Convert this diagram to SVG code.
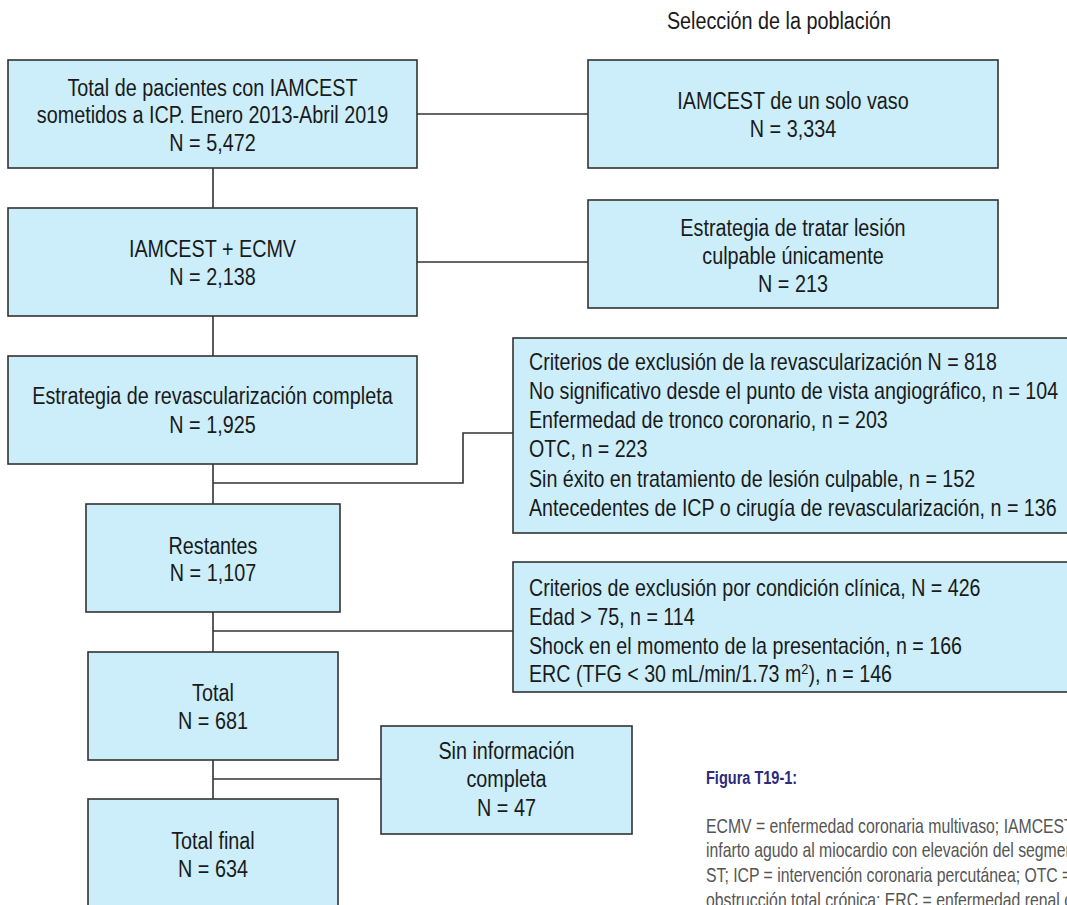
<svg xmlns="http://www.w3.org/2000/svg" width="1067" height="905" viewBox="0 0 1067 905">
<style>
.box{fill:#cbeefa;stroke:#333;stroke-width:1.6}
.t{font-family:"Liberation Sans",Arial,sans-serif;font-size:23px;fill:#1a1a1a}
.c{text-anchor:middle}
.conn{fill:none;stroke:#333;stroke-width:1.6}
.cap{font-family:"Liberation Sans",Arial,sans-serif;font-size:20.5px;fill:#555}
.fig{font-family:"Liberation Sans",Arial,sans-serif;font-size:19px;font-weight:bold;fill:#2d2a7c}
</style>
<rect width="1067" height="905" fill="#fff"/>
<g transform="translate(779,0) scale(0.86,1) translate(-779,0)">
<text class="t c" x="779" y="29" font-size="22">Selección de la población</text>
</g>
<g id="connectors">
<path class="conn" d="M417 114H588"/>
<path class="conn" d="M213 168V208"/>
<path class="conn" d="M417 262H588"/>
<path class="conn" d="M213 316V356"/>
<path class="conn" d="M213 464V504"/>
<path class="conn" d="M213 483H463V433H513"/>
<path class="conn" d="M213 612V652"/>
<path class="conn" d="M213 631H513"/>
<path class="conn" d="M213 760V799"/>
<path class="conn" d="M213 779H381"/>
</g>
<g id="n1"><rect class="box" x="8" y="60" width="409" height="108"/>
<g transform="translate(212.5,0) scale(0.86,1) translate(-212.5,0)">
<text class="t c" x="212.5" y="96">Total de pacientes con IAMCEST</text>
<text class="t c" x="212.5" y="123">sometidos a ICP. Enero 2013-Abril 2019</text>
<text class="t c" x="212.5" y="151">N = 5,472</text></g></g>
<g id="n2"><rect class="box" x="588" y="60" width="410" height="108"/>
<g transform="translate(793,0) scale(0.86,1) translate(-793,0)">
<text class="t c" x="793" y="109">IAMCEST de un solo vaso</text>
<text class="t c" x="793" y="137">N = 3,334</text></g></g>
<g id="n3"><rect class="box" x="8" y="208" width="409" height="108"/>
<g transform="translate(212.5,0) scale(0.86,1) translate(-212.5,0)">
<text class="t c" x="212.5" y="257">IAMCEST + ECMV</text>
<text class="t c" x="212.5" y="285">N = 2,138</text></g></g>
<g id="n4"><rect class="box" x="588" y="200" width="410" height="108"/>
<g transform="translate(793,0) scale(0.86,1) translate(-793,0)">
<text class="t c" x="793" y="236">Estrategia de tratar lesión</text>
<text class="t c" x="793" y="264">culpable únicamente</text>
<text class="t c" x="793" y="292">N = 213</text></g></g>
<g id="n5"><rect class="box" x="8" y="356" width="409" height="108"/>
<g transform="translate(212.5,0) scale(0.86,1) translate(-212.5,0)">
<text class="t c" x="212.5" y="404">Estrategia de revascularización completa</text>
<text class="t c" x="212.5" y="433">N = 1,925</text></g></g>
<g id="n6"><rect class="box" x="513" y="338" width="560" height="195"/>
<g transform="translate(529,0) scale(0.855,1) translate(-529,0)">
<text class="t" x="529" y="370">Criterios de exclusión de la revascularización N = 818</text>
<text class="t" x="529" y="399">No significativo desde el punto de vista angiográfico, n = 104</text>
<text class="t" x="529" y="428">Enfermedad de tronco coronario, n = 203</text>
<text class="t" x="529" y="457">OTC, n = 223</text>
<text class="t" x="529" y="487">Sin éxito en tratamiento de lesión culpable, n = 152</text>
<text class="t" x="529" y="516">Antecedentes de ICP o cirugía de revascularización, n = 136</text></g></g>
<g id="n7"><rect class="box" x="86" y="504" width="254" height="108"/>
<g transform="translate(213,0) scale(0.86,1) translate(-213,0)">
<text class="t c" x="213" y="554">Restantes</text>
<text class="t c" x="213" y="581">N = 1,107</text></g></g>
<g id="n8"><rect class="box" x="513" y="562" width="560" height="130"/>
<g transform="translate(529,0) scale(0.855,1) translate(-529,0)">
<text class="t" x="529" y="596">Criterios de exclusión por condición clínica, N = 426</text>
<text class="t" x="529" y="625">Edad &gt; 75, n = 114</text>
<text class="t" x="529" y="654">Shock en el momento de la presentación, n = 166</text>
<text class="t" x="529" y="682">ERC (TFG &lt; 30 mL/min/1.73 m<tspan font-size="15" dy="-8">2</tspan><tspan dy="8">), n = 146</tspan></text></g></g>
<g id="n9"><rect class="box" x="88" y="652" width="250" height="108"/>
<g transform="translate(213,0) scale(0.86,1) translate(-213,0)">
<text class="t c" x="213" y="701">Total</text>
<text class="t c" x="213" y="729">N = 681</text></g></g>
<g id="n10"><rect class="box" x="381" y="726" width="251" height="108"/>
<g transform="translate(506.5,0) scale(0.86,1) translate(-506.5,0)">
<text class="t c" x="506.5" y="759">Sin información</text>
<text class="t c" x="506.5" y="787">completa</text>
<text class="t c" x="506.5" y="816">N = 47</text></g></g>
<g id="n11"><rect class="box" x="88" y="799" width="250" height="120"/>
<g transform="translate(213,0) scale(0.86,1) translate(-213,0)">
<text class="t c" x="213" y="849">Total final</text>
<text class="t c" x="213" y="877">N = 634</text></g></g>
<g id="caption">
<g transform="translate(706,0) scale(0.765,1) translate(-706,0)">
<text class="fig" x="706" y="784">Figura T19-1:</text></g>
<g transform="translate(706,0) scale(0.77,1) translate(-706,0)">
<text class="cap" x="706" y="833">ECMV = enfermedad coronaria multivaso; IAMCEST =</text>
<text class="cap" x="706" y="857.5">infarto agudo al miocardio con elevación del segmento</text>
<text class="cap" x="706" y="882">ST; ICP = intervención coronaria percutánea; OTC =</text>
<text class="cap" x="706" y="907">obstrucción total crónica; ERC = enfermedad renal crónica</text></g>
</g>
</svg>
